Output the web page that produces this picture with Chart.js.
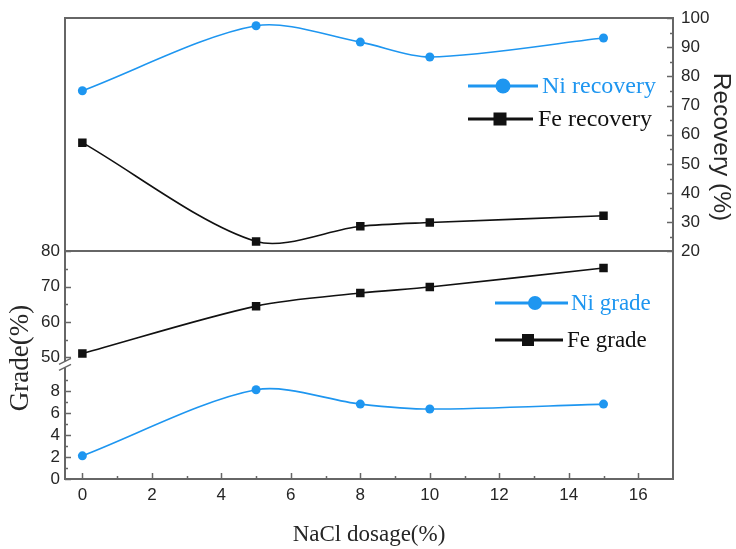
<!DOCTYPE html>
<html><head><meta charset="utf-8">
<script src="https://cdn.jsdelivr.net/npm/chart.js@4.4.1/dist/chart.umd.min.js"></script>
<style>html,body{margin:0;padding:0;background:#fff}#wrap{width:736px;height:549px}</style>
</head><body><div id="wrap"><canvas id="c" width="736" height="549"></canvas></div>
<script>
// ---- data ----
const DOSAGE = [0, 5, 8, 10, 15];
const NI_RECOVERY = [75.1, 97.4, 91.8, 86.7, 93.2];
const FE_RECOVERY = [57.3, 23.4, 28.6, 29.9, 32.2];
const NI_GRADE = [2.1, 8.1, 6.8, 6.35, 6.8];
const FE_GRADE = [51.1, 64.5, 68.2, 69.9, 75.3];
const X_TICKS = [0, 2, 4, 6, 8, 10, 12, 14, 16];
const X_MINOR = [1, 3, 5, 7, 9, 11, 13, 15];
const RECOVERY_TICKS = [20, 30, 40, 50, 60, 70, 80, 90, 100];
const RECOVERY_MINOR = [25, 35, 45, 55, 65, 75, 85, 95];
const GRADE_HIGH_TICKS = [50, 60, 70, 80];
const GRADE_HIGH_MINOR = [55, 65, 75];
const GRADE_LOW_TICKS = [0, 2, 4, 6, 8];
const GRADE_LOW_MINOR = [1, 3, 5, 7, 9];
const SERIES_LABELS = ['Ni recovery', 'Fe recovery', 'Ni grade', 'Fe grade'];
const X_TITLE = 'NaCl dosage(%)';
const LEFT_TITLE = 'Grade(%)';
const RIGHT_TITLE = 'Recovery (%)';

// ---- styles ----
const BLUE = '#1E96F0', BLACK = '#111111', FRAME = '#666666', TXT = '#262626';
const SANS = 'Liberation Sans', SERIF = 'Liberation Serif';
const pts = ys => DOSAGE.map((x, i) => ({x: x, y: ys[i]}));
const setTicks = arr => s => { s.ticks = arr.map(v => ({value: v})); };
const tickFont = {family: SANS, size: 17};

const decor = {
  id: 'decor',
  afterDraw(chart) {
    const ctx = chart.ctx, ca = chart.chartArea, s = chart.scales;
    ctx.save();
    // divider between panels
    ctx.strokeStyle = FRAME; ctx.lineWidth = 2;
    const yd = Math.round(s.yRec.bottom);
    ctx.beginPath(); ctx.moveTo(ca.left, yd); ctx.lineTo(ca.right, yd); ctx.stroke();
    // inward tick marks
    ctx.lineWidth = 1.5;
    const vTicks = (sc, vals, len, side) => vals.forEach(v => {
      const y = Math.round(sc.getPixelForValue(v)) + 0.5;
      const x0 = side === 'left' ? ca.left : ca.right;
      const x1 = side === 'left' ? ca.left + len : ca.right - len;
      ctx.beginPath(); ctx.moveTo(x0, y); ctx.lineTo(x1, y); ctx.stroke();
    });
    const hTicks = (sc, vals, len) => vals.forEach(v => {
      const x = Math.round(sc.getPixelForValue(v)) + 0.5;
      ctx.beginPath(); ctx.moveTo(x, ca.bottom); ctx.lineTo(x, ca.bottom - len); ctx.stroke();
    });
    hTicks(s.x, X_TICKS, 6); hTicks(s.x, X_MINOR, 3);
    vTicks(s.yRec, RECOVERY_TICKS, 6, 'right'); vTicks(s.yRec, RECOVERY_MINOR, 3, 'right');
    vTicks(s.yHigh, GRADE_HIGH_TICKS, 6, 'left'); vTicks(s.yHigh, GRADE_HIGH_MINOR, 3, 'left');
    vTicks(s.yLow, GRADE_LOW_TICKS, 6, 'left'); vTicks(s.yLow, GRADE_LOW_MINOR, 3, 'left');
    // axis break
    const yb = s.yLow.top;
    ctx.fillStyle = '#fff';
    ctx.fillRect(ca.left - 2, yb - 3, 4, 6);
    ctx.strokeStyle = FRAME; ctx.lineWidth = 1.3;
    [-3, 3].forEach(dy => {
      ctx.beginPath(); ctx.moveTo(ca.left - 6, yb + dy + 3); ctx.lineTo(ca.left + 6, yb + dy - 3); ctx.stroke();
    });
    // axis titles (left & right)
    ctx.fillStyle = TXT; ctx.textAlign = 'center'; ctx.textBaseline = 'middle';
    ctx.save(); ctx.translate(21, 358); ctx.rotate(-Math.PI / 2);
    ctx.font = '27px "' + SERIF + '"'; ctx.fillText(LEFT_TITLE, 0, 0); ctx.restore();
    ctx.save(); ctx.translate(721, 147); ctx.rotate(Math.PI / 2);
    ctx.font = '24.5px "' + SANS + '"'; ctx.fillText(RIGHT_TITLE, 0, 0); ctx.restore();
    // legends
    const ds = chart.data.datasets;
    const legendItem = (d, y, x0, x1, mx, tx, big, fs) => {
      ctx.strokeStyle = d.borderColor; ctx.lineWidth = 3;
      ctx.beginPath(); ctx.moveTo(x0, y); ctx.lineTo(x1, y); ctx.stroke();
      ctx.fillStyle = d.pointBackgroundColor;
      if (d.pointStyle === 'circle') { ctx.beginPath(); ctx.arc(mx, y, big, 0, Math.PI * 2); ctx.fill(); }
      else { ctx.fillRect(mx - big, y - big, big * 2, big * 2); }
      ctx.fillStyle = d.borderColor; ctx.textAlign = 'left'; ctx.textBaseline = 'middle';
      ctx.font = fs + 'px "' + SERIF + '"';
      ctx.fillText(d.label, tx, y + 1);
    };
    legendItem(ds[0], 86, 468, 538, 503, 542, 7.5, 24);
    legendItem(ds[1], 119, 468, 533, 500, 538, 6.5, 24);
    legendItem(ds[2], 303, 495, 568, 535, 571, 7, 23);
    legendItem(ds[3], 340, 495, 563, 528, 567, 6, 23);
    ctx.restore();
  }
};

const mkDs = (label, ys, axis, color, style, r) => ({
  label: label, data: pts(ys), yAxisID: axis, borderColor: color, backgroundColor: color,
  pointBackgroundColor: color, pointBorderColor: color, pointStyle: style, pointRadius: r,
  pointBorderWidth: 0, borderWidth: 1.6, tension: 0.3, fill: false
});

const yBase = (extra) => Object.assign({
  grid: {display: false, drawTicks: false},
  border: {display: true, color: FRAME, width: 2},
}, extra);

new Chart(document.getElementById('c'), {
  type: 'line',
  data: {
    datasets: [
      mkDs(SERIES_LABELS[0], NI_RECOVERY, 'yRec', BLUE, 'circle', 4.5),
      mkDs(SERIES_LABELS[1], FE_RECOVERY, 'yRec', BLACK, 'rect', 6),
      mkDs(SERIES_LABELS[2], NI_GRADE, 'yLow', BLUE, 'circle', 4.5),
      mkDs(SERIES_LABELS[3], FE_GRADE, 'yHigh', BLACK, 'rect', 6)
    ]
  },
  options: {
    responsive: false, animation: false, devicePixelRatio: 1,
    layout: {padding: 0},
    plugins: {legend: {display: false}, tooltip: {enabled: false}},
    scales: {
      x: yBase({type: 'linear', position: 'bottom', min: -0.5, max: 17,
        afterBuildTicks: setTicks(X_TICKS), afterFit: s => { s.height = 70; },
        ticks: {font: tickFont, color: TXT, padding: 6, maxRotation: 0, autoSkip: false},
        title: {display: true, text: X_TITLE, color: TXT, font: {family: SERIF, size: 23}, padding: {top: 0, bottom: 0}}
      }),
      xTop: yBase({type: 'linear', position: 'top', min: -0.5, max: 17,
        ticks: {display: false}, afterFit: s => { s.height = 14; }
      }),
      yRec: yBase({type: 'linear', position: 'right', stack: 'R', stackWeight: 235.3, min: 20, max: 100,
        afterBuildTicks: setTicks(RECOVERY_TICKS), afterFit: s => { s.width = 63; },
        ticks: {font: tickFont, color: TXT, padding: 8, autoSkip: false}
      }),
      yRecSp: yBase({type: 'linear', position: 'right', stack: 'R', stackWeight: 229.7,
        ticks: {display: false}, afterFit: s => { s.width = 63; }
      }),
      yLow: yBase({type: 'linear', position: 'left', stack: 'L', stackWeight: 115.6, min: 0, max: 10.4,
        afterBuildTicks: setTicks(GRADE_LOW_TICKS), afterFit: s => { s.width = 65; },
        ticks: {font: tickFont, color: TXT, padding: 5, autoSkip: false}
      }),
      yHigh: yBase({type: 'linear', position: 'left', stack: 'L', stackWeight: 114.1, min: 48, max: 80,
        afterBuildTicks: setTicks(GRADE_HIGH_TICKS), afterFit: s => { s.width = 65; },
        ticks: {font: tickFont, color: TXT, padding: 5, autoSkip: false}
      }),
      ySp: yBase({type: 'linear', position: 'left', stack: 'L', stackWeight: 235.3,
        ticks: {display: false}, afterFit: s => { s.width = 65; }
      })
    }
  },
  plugins: [decor]
});
</script>
</body></html>
